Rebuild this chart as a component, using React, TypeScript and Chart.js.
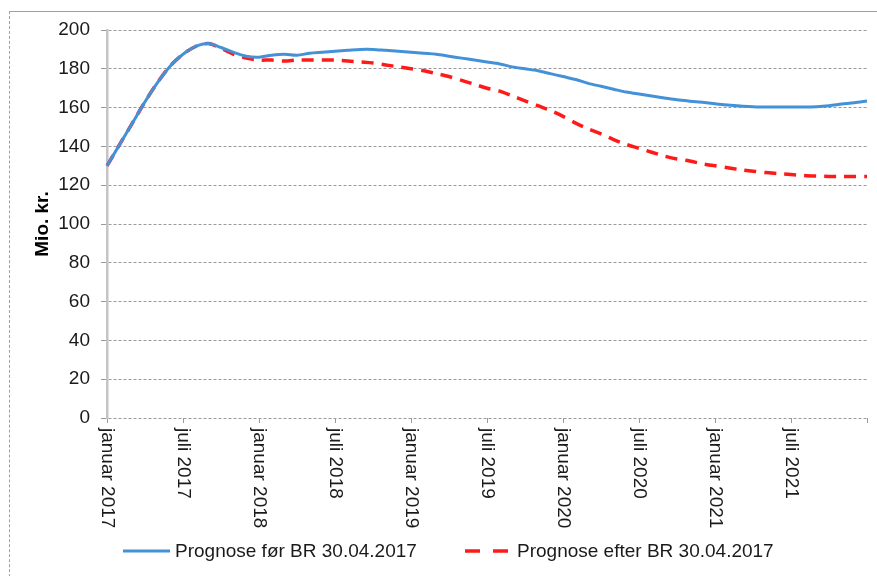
import React, { useEffect, useRef } from "react";
import { Chart, registerables } from "chart.js";

Chart.register(...registerables);

const monthNames = ["januar", "februar", "marts", "april", "maj", "juni", "juli", "august", "september", "oktober", "november", "december"];
const startYear = 2017;
const monthCount = 61;
const categories: string[] = Array.from({ length: monthCount }, (_, i) => `${monthNames[i % 12]} ${startYear + Math.floor(i / 12)}`);

const seriesNames = ["Prognose før BR 30.04.2017", "Prognose efter BR 30.04.2017"];

const prognoseFoer = [
  130, 141, 152, 163, 173, 181.5, 187.5, 191.5, 193, 191,
  188.5, 186.5, 186, 187, 187.5, 187, 188, 188.5, 189, 189.5,
  190, 190, 189.5, 189, 188.5, 188, 187.5, 186.5, 185.5, 184.5,
  183.5, 182.5, 181, 180, 179, 177.5, 176, 174.5, 172.5, 171,
  169.5, 168, 167, 166, 165, 164, 163.3, 162.7, 162, 161.3,
  160.8, 160.5, 160.3, 160.3, 160.3, 160.3, 160.5, 161, 161.8, 162.5,
  163.4,
];

const prognoseEfter = [
  130, 141, 152, 163, 173, 181.5, 187.5, 191.5, 193, 190.5,
  187.5, 185.5, 184.5, 184.5, 184, 184.5, 184.5, 184.5, 184.5, 184,
  183.5, 183, 182, 181, 180, 179, 177.5, 176, 174, 172,
  170, 168.5, 166, 163.5, 161, 158.5, 155.5, 152, 149, 146.5,
  143.5, 141, 139, 137, 135, 133.5, 132.5, 131, 130, 129,
  128, 127.2, 126.5, 126, 125.5, 125, 124.7, 124.5, 124.5, 124.5,
  124.5,
];

const yTicks = { min: 0, max: 200, step: 20 };
const labelEvery = 6;

const FONT = '"Liberation Sans", Arial, sans-serif';

const customPlugin = {
  id: "customDraw",
  afterDraw(chart: any) {
    const { ctx } = chart;
    const xs = chart.scales.x;
    ctx.save();
    ctx.fillStyle = "#1a1a1a";
    ctx.font = `19px ${FONT}`;
    ctx.textAlign = "left";
    ctx.textBaseline = "middle";
    for (let i = 0; i < categories.length - 1; i += labelEvery) {
      const x = xs.getPixelForValue(i);
      ctx.save();
      ctx.translate(x, 428);
      ctx.rotate(Math.PI / 2);
      ctx.fillText(categories[i], 0, 0);
      ctx.restore();
    }
    // legend
    const items = [
      { x0: 123, x1: 170, tx: 175 },
      { x0: 465, x1: 508, tx: 517 },
    ];
    const y = 551;
    chart.data.datasets.forEach((ds: any, k: number) => {
      const it = items[k];
      ctx.save();
      ctx.strokeStyle = ds.borderColor;
      ctx.lineWidth = ds.borderWidth;
      ctx.setLineDash(k === 1 ? [15, 13] : []);
      ctx.beginPath();
      ctx.moveTo(it.x0, y);
      ctx.lineTo(it.x1, y);
      ctx.stroke();
      ctx.restore();
      ctx.fillText(ds.label, it.tx, y + 1);
    });
    ctx.restore();
  },
};

export default function App() {
  const ref = useRef<HTMLCanvasElement | null>(null);
  useEffect(() => {
    if (!ref.current) return;
    const chart = new Chart(ref.current, {
      type: "line",
      data: {
        labels: categories,
        datasets: [
          {
            label: seriesNames[0],
            data: prognoseFoer,
            borderColor: "#4392d8",
            backgroundColor: "#4392d8",
            borderWidth: 3,
            pointRadius: 0,
            tension: 0.3,
          },
          {
            label: seriesNames[1],
            data: prognoseEfter,
            borderColor: "#ff1a1a",
            backgroundColor: "#ff1a1a",
            borderWidth: 3.5,
            borderDash: [12, 8],
            pointRadius: 0,
            tension: 0.3,
          },
        ],
      },
      options: {
        animation: false,
        responsive: false,
        maintainAspectRatio: false,
        layout: { padding: { top: 30, right: 10, left: 0, bottom: 138 } },
        plugins: {
          legend: { display: false },
          tooltip: { enabled: false },
        },
        scales: {
          x: {
            type: "category",
            offset: false,
            afterFit: (s: any) => {
              s.height = 20;
            },
            ticks: { display: false, autoSkip: false },
            border: { display: false },
            grid: {
              drawOnChartArea: false,
              drawTicks: true,
              tickLength: 5,
              tickWidth: 1,
              tickColor: (c: any) => (c.index % labelEvery === 0 ? "#9a9a9a" : "rgba(0,0,0,0)"),
              color: "rgba(0,0,0,0)",
            },
          },
          y: {
            min: yTicks.min,
            max: yTicks.max,
            afterFit: (s: any) => {
              s.width = 107;
            },
            ticks: {
              stepSize: yTicks.step,
              padding: 11,
              color: "#1a1a1a",
              font: { family: FONT, size: 19 },
            },
            title: {
              display: true,
              text: "Mio. kr.",
              color: "#000",
              font: { family: FONT, size: 19, weight: "bold" },
              padding: { top: 31, bottom: 0 },
            },
            border: { display: true, color: "#c4c4c4", width: 2.5, dash: [3, 2] },
            grid: {
              color: "#9a9a9a",
              lineWidth: 1,
              drawTicks: true,
              tickLength: 6,
              tickColor: "#9a9a9a",
              tickBorderDash: [],
            },
          },
        },
      },
      plugins: [customPlugin],
    });
    return () => chart.destroy();
  }, []);

  return (
    <div style={{ position: "fixed", left: 0, top: 0, width: 877, height: 576, background: "#fff", overflow: "hidden" }}>
      <div
        style={{
          position: "absolute",
          left: 9,
          top: 11,
          width: 900,
          height: 600,
          borderTop: "1px solid #a0a0a0",
          borderLeft: "1px dashed #a0a0a0",
        }}
      />
      <canvas ref={ref} width={877} height={576} style={{ position: "absolute", left: 0, top: 0, width: 877, height: 576 }} />
    </div>
  );
}
